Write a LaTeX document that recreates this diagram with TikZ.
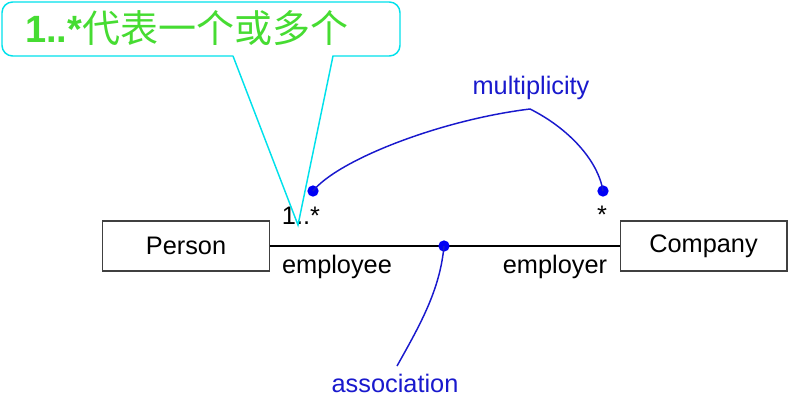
\documentclass[tikz,border=0pt]{standalone}
\usepackage{fontspec}
\setmainfont{Liberation Sans}
\newfontfamily\cjk{Noto Sans CJK SC}
\usepackage{tikz}
\usetikzlibrary{calc}

\definecolor{umlblue}{RGB}{25,25,205}
\definecolor{dotblue}{RGB}{0,0,245}
\definecolor{notegreen}{RGB}{70,220,50}
\definecolor{notecyan}{RGB}{0,225,235}

\tikzset{
  classbox/.style={rectangle,draw=black!75,line width=1pt,minimum width=125pt,minimum height=37.5pt,inner sep=0pt},
  dot/.style={circle,fill=dotblue,minimum size=8.5pt,inner sep=0pt},
  bluelabel/.style={text=umlblue,inner sep=1pt},
  blueline/.style={draw=umlblue,line width=1.1pt}
}

\begin{document}
\begin{tikzpicture}[x=0.75pt,y=-0.75pt,font=\fontsize{19}{23}\selectfont]
      \useasboundingbox (0,0) rectangle (801,404);
      \foreach \n/\t/\x in {person/Person/186,company/Company/703.5}{
        \node (\n) [classbox] at (\x,246) {\t};
      }
      \draw [line width=1.2pt] (person) -- (company);
      % role names and multiplicities
      \node (emp) at (337,267) {employee};
      \node (empr) at (555,267) {employer};
      \node (multl) at (301,216) {1..*};
      \node (multr) at (602,215) {*};
      % blue notes
      \node (assoc) [dot] at (444,246) {};
      \node (mleft) [dot] at (313,191) {};
      \node (mright) [dot] at (603,191) {};
      \node (assoclabel) [bluelabel] at (395,383) {association};
      \node (multlabel) [bluelabel] at (531,88) {multiplicity};
      \coordinate (mtop) at (530,109);
      \coordinate (aend) at (397,366);
      \draw [blueline] (mleft.center) .. controls (338,160) and (440,120) .. (mtop)
        .. controls (568,128) and (598,160) .. (mright.center);
      \draw [blueline] (assoc.center) .. controls (440,290) and (420,325) .. (aend);
      % callout
      \coordinate (tip) at (298,225);
      \draw [notecyan,line width=1.1pt] (233,56) -- (tip) -- (333,56)
        [rounded corners=8] -- (400,56) -- (400,2) -- (2,2) -- (2,56) -- (233,56);
      \node (note) [anchor=base west,text=notegreen,inner sep=0pt] at (25,42)
        {\fontsize{28.5}{31}\selectfont\textbf{1..*}\cjk 代表一个或多个};
\end{tikzpicture}
\end{document}
